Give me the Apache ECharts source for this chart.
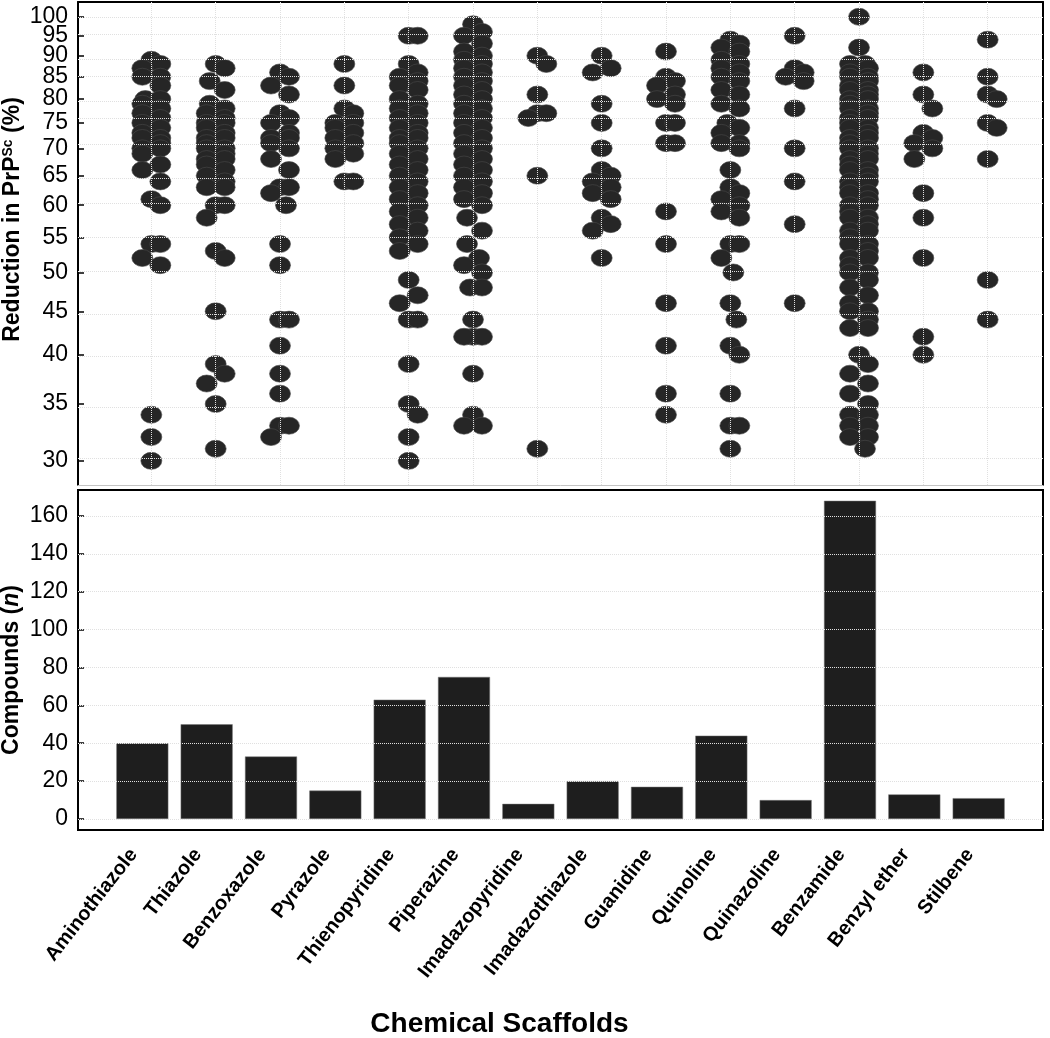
<!DOCTYPE html>
<html><head><meta charset="utf-8">
<script src="https://cdn.jsdelivr.net/npm/echarts@6/dist/echarts.min.js"></script>
<style>html,body{margin:0;padding:0;background:#fff}#c{width:1050px;height:1038px}</style>
</head><body><div id="c"></div>
<script>
// ---------- DATA ----------
const categories = ['Aminothiazole','Thiazole','Benzoxazole','Pyrazole','Thienopyridine','Piperazine','Imadazopyridine','Imadazothiazole','Guanidine','Quinoline','Quinazoline','Benzamide','Benzyl ether','Stilbene'];
const compounds = [40, 50, 33, 15, 63, 75, 8, 20, 17, 44, 10, 168, 13, 11];
const reductionTicks = [30, 35, 40, 45, 50, 55, 60, 65, 70, 75, 80, 85, 90, 95, 100];
const compoundTicks = [0, 20, 40, 60, 80, 100, 120, 140, 160];

const aminothiazole = [89, 88, 87, 85, 85, 83, 80, 80, 79, 78, 77, 76, 75, 74, 73, 72, 72, 71, 70, 70, 69, 67, 66, 64, 61, 60, 54, 54, 52, 51, 34, 32, 30];
const thiazole = [88, 87, 84, 82, 79, 78, 77, 76, 75, 75, 74, 73, 72, 72, 71, 70, 70, 69, 68, 68, 67, 66, 65, 64, 63, 63, 60, 60, 58, 53, 52, 45, 39, 38, 37, 35, 31];
const benzoxazole = [86, 85, 83, 81, 77, 76, 75, 73, 72, 72, 71, 70, 68, 66, 63, 63, 62, 60, 54, 51, 44, 44, 41, 38, 36, 33, 33, 32];
const pyrazole = [88, 83, 78, 77, 75, 75, 74, 73, 72, 71, 70, 69, 68, 64, 64];
const thienopyridine = [95, 95, 88, 86, 85, 84, 83, 82, 80, 79, 78, 77, 76, 75, 74, 73, 72, 72, 71, 70, 69, 68, 67, 66, 65, 64, 63, 62, 61, 60, 59, 58, 57, 56, 55, 54, 53, 49, 47, 46, 44, 44, 39, 35, 34, 32, 30];
const piperazine = [98, 96, 95, 93, 91, 90, 89, 88, 87, 86, 85, 84, 83, 82, 81, 80, 79, 78, 77, 76, 75, 74, 73, 72, 71, 70, 69, 68, 67, 66, 65, 64, 63, 62, 61, 60, 58, 56, 54, 52, 51, 50, 48, 48, 44, 42, 42, 42, 38, 34, 33, 33];
const imadazopyridine = [90, 88, 81, 77, 77, 76, 65, 31];
const imadazothiazole = [90, 87, 86, 79, 75, 70, 66, 65, 64, 63, 62, 61, 58, 57, 56, 52];
const guanidine = [91, 85, 84, 83, 81, 80, 79, 75, 75, 71, 71, 59, 54, 46, 41, 36, 34];
const quinoline = [94, 93, 92, 91, 89, 88, 87, 86, 85, 84, 82, 81, 79, 78, 75, 74, 73, 71, 71, 70, 66, 63, 62, 61, 60, 59, 58, 54, 54, 52, 50, 46, 44, 41, 40, 36, 33, 33, 31];
const quinazoline = [95, 87, 86, 85, 84, 78, 70, 64, 57, 46];
const benzamide = [100, 92, 88, 88, 87, 86, 85, 85, 84, 83, 82, 82, 81, 80, 80, 79, 78, 78, 77, 76, 76, 75, 74, 74, 73, 72, 72, 71, 70, 70, 69, 68, 68, 67, 66, 66, 65, 64, 64, 63, 62, 62, 61, 60, 60, 59, 58, 58, 57, 56, 56, 55, 54, 54, 53, 52, 52, 51, 50, 50, 49, 48, 47, 46, 45, 45, 44, 43, 43, 40, 39, 38, 37, 36, 35, 34, 34, 33, 33, 32, 32, 31];
const benzylEther = [86, 81, 78, 73, 72, 71, 70, 68, 62, 58, 52, 42, 40];
const stilbene = [94, 85, 81, 80, 75, 74, 68, 49, 44];

const reductionByScaffold = [aminothiazole, thiazole, benzoxazole, pyrazole, thienopyridine, piperazine, imadazopyridine, imadazothiazole, guanidine, quinoline, quinazoline, benzamide, benzylEther, stilbene];

// ---------- LAYOUT ----------
const FONT = '"Liberation Sans", Arial, Helvetica, sans-serif';
const W = 1050;
const TOP = {left: 78, right: 7, top: 2, height: 483};
const BOT = {left: 78, right: 7, top: 490, height: 340};
const logMin = Math.log10(28.1), logMax = Math.log10(104.1);
const xTopMin = -1.14, xTopMax = 13.86;
const pxPerLog = TOP.height / (logMax - logMin);
const pxPerUnit = (W - TOP.left - TOP.right) / (xTopMax - xTopMin);
const DOT_W = 21, DOT_H = 17;
const logTicks = reductionTicks.map(v => Math.log10(v));

// simple bounded beeswarm: horizontal offset chosen to minimise overlap
function swarm(vals, idx) {
  const placed = [], out = [];
  const order = vals.map((v, k) => k).sort((a, b) => vals[b] - vals[a]);
  const cands = [0, 3, -3, 6, -6, 9, -9];
  for (const k of order) {
    const ly = Math.log10(vals[k]);
    const y = ly * pxPerLog;
    let best = 0, bestCost = Infinity;
    for (const c of cands) {
      let cost = 0;
      for (const p of placed) {
        const d = Math.hypot((c - p[0]) / DOT_W, (y - p[1]) / DOT_H);
        if (d < 1) cost += 1 - d;
      }
      cost += Math.abs(c) * 0.002;
      if (cost < bestCost - 1e-9) { bestCost = cost; best = c; }
    }
    placed.push([best, y]);
    out.push([idx + best / pxPerUnit, ly]);
  }
  return out;
}

const dots = [];
reductionByScaffold.forEach((vals, i) => dots.push(...swarm(vals, i)));

const chart = echarts.init(document.getElementById('c'), null, {renderer: 'canvas'});
const black = {color: '#000', width: 2};
const gridLine = {color: '#e0e0e0', type: 'dotted', width: 1};

chart.setOption({
  animation: false,
  backgroundColor: '#fff',
  textStyle: {fontFamily: FONT},
  grid: [
    {left: TOP.left, right: TOP.right, top: TOP.top, height: TOP.height, containLabel: false, outerBoundsMode: 'none'},
    {left: BOT.left, right: BOT.right, top: BOT.top, height: BOT.height, containLabel: false, outerBoundsMode: 'none',
     show: true, borderColor: '#000', borderWidth: 2, backgroundColor: 'transparent'}
  ],
  xAxis: [
    {gridIndex: 0, type: 'value', min: xTopMin, max: xTopMax, position: 'bottom',
     axisLine: {show: true, onZero: false, lineStyle: {color: '#c4c4c4', width: 1}},
     axisTick: {show: false}, axisLabel: {show: false}, splitLine: {show: false}},
    {gridIndex: 0, type: 'value', min: xTopMin, max: xTopMax, position: 'top',
     axisLine: {show: true, onZero: false, lineStyle: black},
     axisTick: {show: false}, axisLabel: {show: false}, splitLine: {show: false}},
    {gridIndex: 1, type: 'value', min: -1, max: 14, interval: 1, position: 'bottom',
     axisLine: {show: true, onZero: false, lineStyle: black},
     axisTick: {show: false}, splitLine: {show: false},
     axisLabel: {show: true, rotate: 52, margin: 10, fontSize: 20, fontWeight: 'bold', color: '#000', fontFamily: FONT,
       padding: [0, 14, 0, 0], hideOverlap: false,
       formatter: v => (Number.isInteger(v) && categories[v]) ? categories[v] : ''},
     name: 'Chemical Scaffolds', nameLocation: 'middle', nameGap: 180, nameMoveOverlap: false,
     nameTextStyle: {fontSize: 28, fontWeight: 'bold', color: '#000', fontFamily: FONT, padding: [0, 122, 0, 0]}}
  ],
  yAxis: [
    {gridIndex: 0, type: 'value', min: logMin, max: logMax, position: 'left',
     axisLine: {show: true, onZero: false, lineStyle: black},
     axisTick: {show: true, inside: true, length: 6, lineStyle: {color: '#000', width: 1.5}, customValues: logTicks},
     axisLabel: {show: true, margin: 10, fontSize: 23, color: '#000', fontFamily: FONT,
       hideOverlap: false, showMaxLabel: false, showMinLabel: true,
       customValues: logTicks.concat([logMax]),
       formatter: v => (v >= logMax - 1e-9) ? '' : String(Math.round(Math.pow(10, v)))},
     splitLine: {show: false},
     name: 'Reduction in PrP{s|Sc} (%)', nameLocation: 'middle', nameGap: 54, nameRotate: 90, nameMoveOverlap: false,
     nameTextStyle: {fontSize: 23, fontWeight: 'bold', color: '#000', fontFamily: FONT, padding: [0, 0, 0, 48],
       rich: {s: {fontSize: 14, fontWeight: 'bold', color: '#000', fontFamily: FONT, verticalAlign: 'top', lineHeight: 14}}}},
    {gridIndex: 0, type: 'value', min: logMin, max: logMax, position: 'right',
     axisLine: {show: true, onZero: false, lineStyle: black},
     axisTick: {show: false}, axisLabel: {show: false}, splitLine: {show: false}},
    {gridIndex: 1, type: 'value', min: -5.8, max: 173.7, position: 'left',
     axisLine: {show: true, onZero: false, lineStyle: black},
     axisTick: {show: true, inside: true, length: 6, lineStyle: {color: '#000', width: 1.5}, customValues: compoundTicks},
     axisLabel: {show: true, margin: 10, fontSize: 23, color: '#000', fontFamily: FONT, customValues: compoundTicks, hideOverlap: false},
     splitLine: {show: false},
     name: 'Compounds ({i|n})', nameLocation: 'middle', nameGap: 55, nameRotate: 90, nameMoveOverlap: false,
     nameTextStyle: {fontSize: 23, fontWeight: 'bold', color: '#000', fontFamily: FONT, padding: [0, 20, 0, 0],
       rich: {i: {fontSize: 23, fontWeight: 'bold', fontStyle: 'italic', color: '#000', fontFamily: FONT}}}}
  ],
  series: [
    {type: 'scatter', xAxisIndex: 0, yAxisIndex: 0, data: [], silent: true, z: 1,
     markLine: {silent: true, symbol: 'none', animation: false, label: {show: false}, lineStyle: gridLine,
       data: logTicks.map(v => ({yAxis: v})).concat(categories.map((c, i) => ({xAxis: i})))}},
    {type: 'scatter', xAxisIndex: 0, yAxisIndex: 0, data: dots, symbol: 'circle', symbolSize: [DOT_W, DOT_H],
     itemStyle: {color: '#262626', borderColor: '#4a4a4a', borderWidth: 0.6, opacity: 1}, z: 3},
    {type: 'scatter', xAxisIndex: 2, yAxisIndex: 2, data: [], silent: true, z: 1,
     markLine: {silent: true, symbol: 'none', animation: false, label: {show: false}, lineStyle: gridLine,
       data: compoundTicks.map(v => ({yAxis: v}))}},
    {type: 'bar', xAxisIndex: 2, yAxisIndex: 2, data: compounds.map((v, i) => [i, v]), barWidth: 52,
     itemStyle: {color: '#1e1e1e', borderColor: '#777', borderWidth: 0.5}, z: 3}
  ]
});
</script>
</body></html>
